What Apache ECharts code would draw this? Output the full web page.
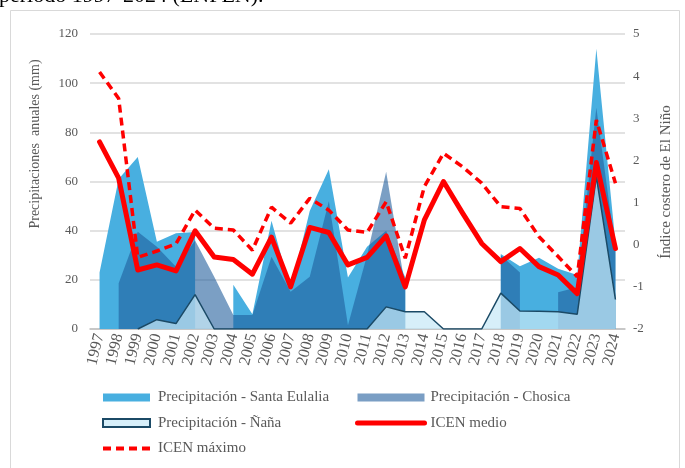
<!DOCTYPE html>
<html>
<head>
<meta charset="utf-8">
<script src="https://cdn.jsdelivr.net/npm/echarts@6/dist/echarts.min.js"></script>
<style>html,body{margin:0;padding:0;background:#fff;}#c{width:685px;height:468px;}</style>
</head>
<body>
<div id="c"></div>
<script>
const years = ['1997','1998','1999','2000','2001','2002','2003','2004','2005','2006','2007','2008','2009','2010','2011','2012','2013','2014','2015','2016','2017','2018','2019','2020','2021','2022','2023','2024'];
const santaEulalia = [23,61,70,35.5,39,39.5,null,18,6,44,16,48,65,21,33.5,40,21,null,null,null,null,30.5,25.5,29,24.5,22,114,35];
const chosica = [null,18.6,39.6,33.5,25.3,36,21.3,5.7,5.7,29.4,15.2,21.3,52,1.5,30,64,17,null,null,null,null,30,23,null,15,17,90,32];
const nana = [null,null,0,3.8,2.2,14,0,0,0,0,0,0,0,0,0,9,7,7,0,0,0,14.6,7.3,7.2,7,6,62,12];
const icenMedio = [2.44,1.58,-0.6,-0.48,-0.62,0.33,-0.29,-0.35,-0.7,0.18,-1.0,0.41,0.29,-0.48,-0.3,0.21,-1.0,0.59,1.5,0.75,0.03,-0.4,-0.09,-0.52,-0.72,-1.16,1.95,-0.09];
const icenMax = [4.1,3.47,-0.3,-0.15,0.02,0.82,0.39,0.35,-0.13,0.89,0.51,1.1,0.82,0.35,0.29,1.02,-0.32,1.38,2.17,1.85,1.46,0.9,0.86,0.19,-0.28,-0.76,2.96,1.46];
const leftTicks = {min:0, max:120, interval:20};
const rightTicks = {min:-2, max:5, interval:1};

const FONT = "'Liberation Serif', 'Times New Roman', serif";
const GRAY = '#595959';

const chart = echarts.init(document.getElementById('c'), null, {renderer:'canvas'});
chart.setOption({
  animation:false,
  backgroundColor:'#ffffff',
  textStyle:{fontFamily:FONT},
  graphic:[
    {type:'rect', shape:{x:10.5,y:10.5,width:669,height:470}, style:{fill:null, stroke:'#D9D9D9', lineWidth:1}, silent:true, z:-10},
    {type:'text', left:-1, top:-15, style:{text:'período 1997-2024 (ENFEN).', font:'22px ' + FONT, fill:'#000'}},
    {type:'text', x:35, y:144, rotation:Math.PI/2, style:{text:'Precipitaciones  anuales (mm)', font:'14px ' + FONT, fill:GRAY, align:'center', verticalAlign:'middle'}},
    {type:'text', x:666, y:182, rotation:Math.PI/2, style:{text:'Índice costero de El Niño', font:'15px ' + FONT, fill:GRAY, align:'center', verticalAlign:'middle'}}
  ],
  grid:{left:90, right:60, top:34, bottom:139},
  xAxis:{
    type:'category', data:years, boundaryGap:true,
    axisLine:{show:true, lineStyle:{color:'#BFBFBF', width:1.5}},
    axisTick:{show:false},
    axisLabel:{interval:0, rotate:76, color:GRAY, fontSize:16, fontFamily:FONT, margin:5}
  },
  yAxis:[
    {type:'value', min:leftTicks.min, max:leftTicks.max, interval:leftTicks.interval,
     axisLine:{show:false}, axisTick:{show:false},
     axisLabel:{color:GRAY, fontSize:13, fontFamily:FONT, margin:12},
     splitLine:{show:true, lineStyle:{color:'#D9D9D9', width:1.5}}},
    {type:'value', min:rightTicks.min, max:rightTicks.max, interval:rightTicks.interval,
     axisLine:{show:false}, axisTick:{show:false},
     axisLabel:{color:GRAY, fontSize:13, fontFamily:FONT, margin:8},
     splitLine:{show:false}}
  ],
  legend:[
    {left:101, top:390, padding:0, orient:'vertical', itemWidth:47, itemHeight:8, itemGap:10.5,
     textStyle:{color:GRAY, fontSize:15, fontFamily:FONT, padding:[0,0,0,3]},
     data:[
       {name:'Precipitación - Santa Eulalia', icon:'rect', itemStyle:{color:'#48AFE0', opacity:1}},
       {name:'Precipitación - Ñaña', icon:'rect', itemStyle:{color:'#D6EFFA', opacity:1, borderColor:'#1B4A66', borderWidth:2}},
       {name:'ICEN máximo', itemStyle:{opacity:0}, lineStyle:{width:4, color:'#FF0000', type:[8,5]}}
     ]},
    {left:355, top:390, padding:0, orient:'vertical', itemWidth:67, itemHeight:8, itemGap:10.5,
     textStyle:{color:GRAY, fontSize:15, fontFamily:FONT, padding:[0,0,0,1]},
     data:[
       {name:'Precipitación - Chosica', icon:'rect', itemStyle:{color:'#7A9EC4', opacity:1}},
       {name:'ICEN medio', itemStyle:{opacity:0}, lineStyle:{width:5, color:'#FF0000', cap:'round'}}
     ]}
  ],
  series:[
    {name:'Precipitación - Santa Eulalia', type:'line', data:santaEulalia, yAxisIndex:0,
     showSymbol:false, symbol:'none', connectNulls:false,
     itemStyle:{color:'#48AFE0'}, lineStyle:{width:0, color:'#48AFE0'},
     areaStyle:{color:'#48AFE0', opacity:1}, z:2},
    {name:'Precipitación - Chosica', type:'line', data:chosica, yAxisIndex:0,
     showSymbol:false, symbol:'none', connectNulls:false,
     itemStyle:{color:'#1E5B9B'}, lineStyle:{width:0, color:'#1E5B9B'},
     areaStyle:{color:'#1E5B9B', opacity:0.59}, z:3},
    {name:'Precipitación - Ñaña', type:'line', data:nana, yAxisIndex:0,
     showSymbol:false, symbol:'none', connectNulls:false,
     itemStyle:{color:'#1B4A66'}, lineStyle:{width:1.5, color:'#1B4A66'},
     areaStyle:{color:'#C6E8F6', opacity:0.71}, z:4},
    {name:'ICEN medio', type:'line', data:icenMedio, yAxisIndex:1,
     showSymbol:false, symbol:'none',
     itemStyle:{color:'#FF0000'}, lineStyle:{width:5, color:'#FF0000', cap:'round', join:'round'}, z:6},
    {name:'ICEN máximo', type:'line', data:icenMax, yAxisIndex:1,
     showSymbol:false, symbol:'none',
     itemStyle:{color:'#FF0000'}, lineStyle:{width:3.5, color:'#FF0000', type:[8,5]}, z:5}
  ]
});
</script>
</body>
</html>
